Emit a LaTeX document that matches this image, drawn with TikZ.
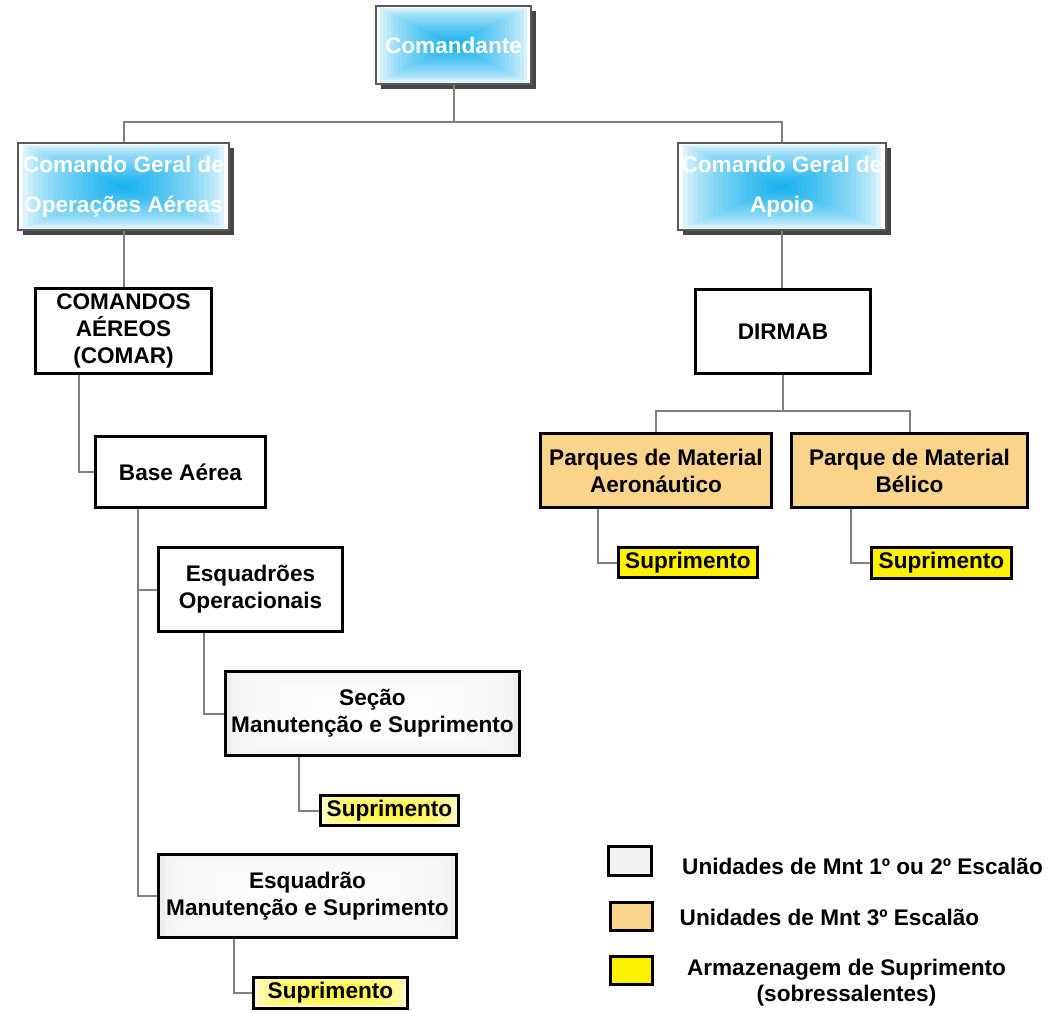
\documentclass[tikz,border=0pt]{standalone}
\usepackage{fontspec}
\setmainfont{Liberation Sans}
\usetikzlibrary{calc}
\definecolor{cblue}{RGB}{25,178,238}
\definecolor{orangebox}{RGB}{250,212,138}
\definecolor{connc}{RGB}{128,128,128}
\definecolor{legendgray}{RGB}{242,242,242}
\definecolor{shadowc}{RGB}{70,70,70}
\colorlet{supcenter}{yellow!85!white}
\colorlet{supedge}{yellow!12!white}
\colorlet{grayedge}{black!7}
\newcommand\gradrect[7]{%
  \foreach \i in {0,...,20}{%
    \pgfmathtruncatemacro\p{100*(\i/20)^(#7)}%
    \pgfmathsetmacro\dx{\i*((#3)-(#1))/42}%
    \pgfmathsetmacro\dy{\i*((#4)-(#2))/42}%
    \fill[#5!\p!#6] ({#1+\dx},{#2+\dy}) rectangle ({#3-\dx},{#4-\dy});
  }}
\newcommand\shadowrect[4]{%
  \fill[shadowc] ({#1+5},{#2+5}) rectangle ({#3+5},{#4+5});}
\tikzset{
  unitbox/.style={draw=black,line width=3pt,inner sep=0pt,align=center,
    font=\fontsize{22.6}{27}\selectfont\bfseries,text=black},
  bluebox/.style={draw=black!65,line width=1.3pt,inner sep=0pt,align=center,
    font=\fontsize{22.6}{40}\selectfont\bfseries,text=white},
  legendtext/.style={inner sep=0pt,align=center,
    font=\fontsize{22.6}{26}\selectfont\bfseries,text=black},
  conn/.style={draw=connc,line width=2pt},
}
\begin{document}
\begin{tikzpicture}[x=1pt,y=-1pt]
\useasboundingbox[fill=white] (0,0) rectangle (1048,1011);

% gradient backgrounds
\shadowrect{376}{6}{531}{84}
\gradrect{376}{6}{531}{84}{cblue}{white}{0.6}
\shadowrect{18}{143}{229}{230}
\gradrect{18}{143}{229}{230}{cblue}{white}{0.6}
\shadowrect{678}{143}{886}{230}
\gradrect{678}{143}{886}{230}{cblue}{white}{0.6}
\gradrect{225}{671}{520}{756}{white}{grayedge}{0.3}
\gradrect{158}{854}{457}{938}{white}{grayedge}{0.3}
\gradrect{320}{795}{459}{826}{supcenter}{supedge}{0.5}
\gradrect{253}{977}{408}{1008}{supcenter}{supedge}{0.5}

% nodes
\node[bluebox,minimum width=155,minimum height=78] (cmd) at (453.5,45) {Comandante};
\node[bluebox,minimum width=211,minimum height=87] (cgoa) at (123.5,186.5) {Comando Geral de\\Operações Aéreas};
\node[bluebox,minimum width=208,minimum height=87] (cga) at (782,186.5) {Comando Geral de\\Apoio};

\node[unitbox,minimum width=176,minimum height=85] (comar) at (123.5,331) {COMANDOS\\AÉREOS\\(COMAR)};
\node[unitbox,minimum width=170,minimum height=71] (base) at (180.5,472) {Base Aérea};
\node[unitbox,minimum width=184,minimum height=84] (esqop) at (250.5,589.5) {Esquadrões\\Operacionais};
\node[unitbox,minimum width=294,minimum height=84] (secao) at (372.5,713.5) {Seção\\Manutenção e Suprimento};
\node[unitbox,minimum width=138,minimum height=30] (sup1) at (389.5,810.5) {Suprimento};
\node[unitbox,minimum width=298,minimum height=83] (esqms) at (307.5,896) {Esquadrão\\Manutenção e Suprimento};
\node[unitbox,minimum width=154,minimum height=31] (sup2) at (330.5,992.5) {Suprimento};

\node[unitbox,minimum width=175,minimum height=84] (dirmab) at (783,331.5) {DIRMAB};
\node[unitbox,fill=orangebox,minimum width=231,minimum height=74] (pma) at (656,470.5) {Parques de Material\\Aeronáutico};
\node[unitbox,fill=orangebox,minimum width=236,minimum height=74] (pmb) at (909.5,470.5) {Parque de Material\\Bélico};
\node[unitbox,fill=yellow,minimum width=139,minimum height=30] (sup3) at (688,562.5) {Suprimento};
\node[unitbox,fill=yellow,minimum width=140,minimum height=31] (sup4) at (941.5,563) {Suprimento};

% legend
\node[unitbox,fill=legendgray,minimum width=43,minimum height=29] (leg1) at (630,861) {};
\node[unitbox,fill=orangebox,minimum width=42,minimum height=28] (leg2) at (631.5,916.5) {};
\node[unitbox,fill=yellow,minimum width=42,minimum height=28] (leg3) at (631.5,970.5) {};
\node[legendtext] (lt1) at (862.5,866) {Unidades de Mnt 1º ou 2º Escalão};
\node[legendtext] (lt2) at (829.5,917) {Unidades de Mnt 3º Escalão};
\node[legendtext] (lt3) at (846.5,983) {Armazenagem de Suprimento\\(sobressalentes)};

% connectors
\coordinate (j0) at (453.5,122);
\coordinate (j1) at (783,411);
\draw[conn] (cmd.south) -- (j0);
\draw[conn] (j0) -| (cgoa.north);
\draw[conn] (j0) -| (cga.north);
\draw[conn] (cgoa.south) -- (comar.north);
\draw[conn] (cga.south) -- (cga.south |- dirmab.north);
\draw[conn] ([xshift=-44.5]comar.south) |- (base.west);
\draw[conn] ([xshift=-42.5]base.south) |- (esqop.west);
\draw[conn] ([xshift=-42.5]base.south) |- (esqms.west);
\draw[conn] ([xshift=-46.5]esqop.south) |- (secao.west);
\draw[conn] ([xshift=-73.5]secao.south) |- (sup1.west);
\draw[conn] ([xshift=-73.5]esqms.south) |- (sup2.west);
\draw[conn] (dirmab.south) -- (j1);
\draw[conn] (j1) -| (pma.north);
\draw[conn] (j1) -| (pmb.north);
\draw[conn] ([xshift=-58]pma.south) |- (sup3.west);
\draw[conn] ([xshift=-58.5]pmb.south) |- (sup4.west);
\end{tikzpicture}
\end{document}
